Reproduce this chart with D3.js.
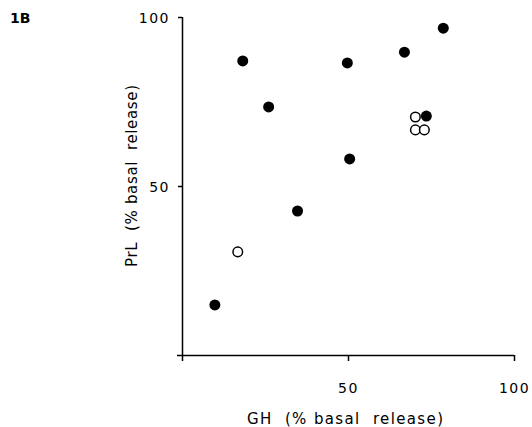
<!DOCTYPE html>
<html>
<head>
<meta charset="utf-8">
<script src="https://cdn.jsdelivr.net/npm/d3@7"></script>
<style>
  body { margin: 0; background: #fff; }
  text { fill: #000; }
</style>
</head>
<body>
<div id="chart"></div>
<script>
// values (GH vs PrL, % basal release)
var filledGH  = [9.9, 18.3, 26.1, 34.8, 49.8, 50.5, 67.0, 73.6, 78.7];
var filledPrL = [14.8, 87.0, 73.4, 42.6, 86.4, 58.0, 89.6, 70.7, 96.7];
var openGH  = [16.8, 70.3, 70.3, 73.0];
var openPrL = [30.5, 70.4, 66.6, 66.6];
var tickVals = [0, 50, 100];
var yTickVals = [50, 100];

var svgWidth = 532;
var svgHeight = 427;

var svg = d3.select("#chart")
    .append("svg")
    .attr("width", svgWidth)
    .attr("height", svgHeight);

var x = d3.scaleLinear().domain([0, 100]).range([182, 514]);
var y = d3.scaleLinear().domain([0, 100]).range([355, 17]);

var fontFam = "'DejaVu Sans', sans-serif";

// x axis
var xAxis = svg.append("g")
    .attr("transform", "translate(0,355)")
    .call(d3.axisBottom(x).tickValues(tickVals).tickSize(6).tickSizeOuter(0).tickFormat(d => d === 0 ? "" : d));
xAxis.select(".domain").attr("d", "M177,0.5H" + x(100));
xAxis.selectAll("line").attr("stroke-width", 1.5);
xAxis.select(".domain").attr("stroke-width", 1.5);
xAxis.selectAll("text")
    .attr("y", 0)
    .attr("dy", 0)
    .attr("transform", "translate(0,38)")
    .style("font-family", fontFam)
    .style("font-size", "14px")
    .style("letter-spacing", "1.5px");

// y axis
var yAxis = svg.append("g")
    .attr("transform", "translate(182,0)")
    .call(d3.axisLeft(y).tickValues(yTickVals).tickSize(4).tickSizeOuter(0));
yAxis.select(".domain").attr("d", "M0.5," + y(0) + "V" + y(100)).attr("stroke-width", 1.5);
yAxis.selectAll("line").attr("stroke-width", 1.5);
yAxis.selectAll("text")
    .attr("x", -12)
    .attr("dy", "0.36em")
    .style("font-family", fontFam)
    .style("font-size", "14px")
    .style("letter-spacing", "1.5px");

// points
var filled = filledGH.map((d, i) => ({gh: d, prl: filledPrL[i]}));
var open = openGH.map((d, i) => ({gh: d, prl: openPrL[i]}));

svg.append("g").selectAll("circle")
    .data(open)
    .enter()
    .append("circle")
    .attr("cx", d => x(d.gh))
    .attr("cy", d => y(d.prl))
    .attr("r", 4.8)
    .attr("fill", "#fff")
    .attr("stroke", "#000")
    .attr("stroke-width", 1.5);

svg.append("g").selectAll("circle")
    .data(filled)
    .enter()
    .append("circle")
    .attr("cx", d => x(d.gh))
    .attr("cy", d => y(d.prl))
    .attr("r", 5.5)
    .attr("fill", "#000");

// axis titles
svg.append("text")
    .attr("x", 247)
    .attr("y", 424)
    .attr("textLength", 196)
    .attr("lengthAdjust", "spacing")
    .style("white-space", "pre")
    .style("font-family", fontFam)
    .style("font-size", "15px")
    .text("GH  (% basal  release)");

svg.append("text")
    .attr("transform", "translate(137,267) rotate(-90)")
    .attr("textLength", 182)
    .attr("lengthAdjust", "spacing")
    .style("white-space", "pre")
    .style("font-family", fontFam)
    .style("font-size", "15px")
    .text("PrL  (% basal  release)");

// panel label
svg.append("text")
    .attr("x", 10)
    .attr("y", 23)
    .style("font-family", fontFam)
    .style("font-size", "14px")
    .style("font-weight", "bold")
    .text("1B");
</script>
</body>
</html>
